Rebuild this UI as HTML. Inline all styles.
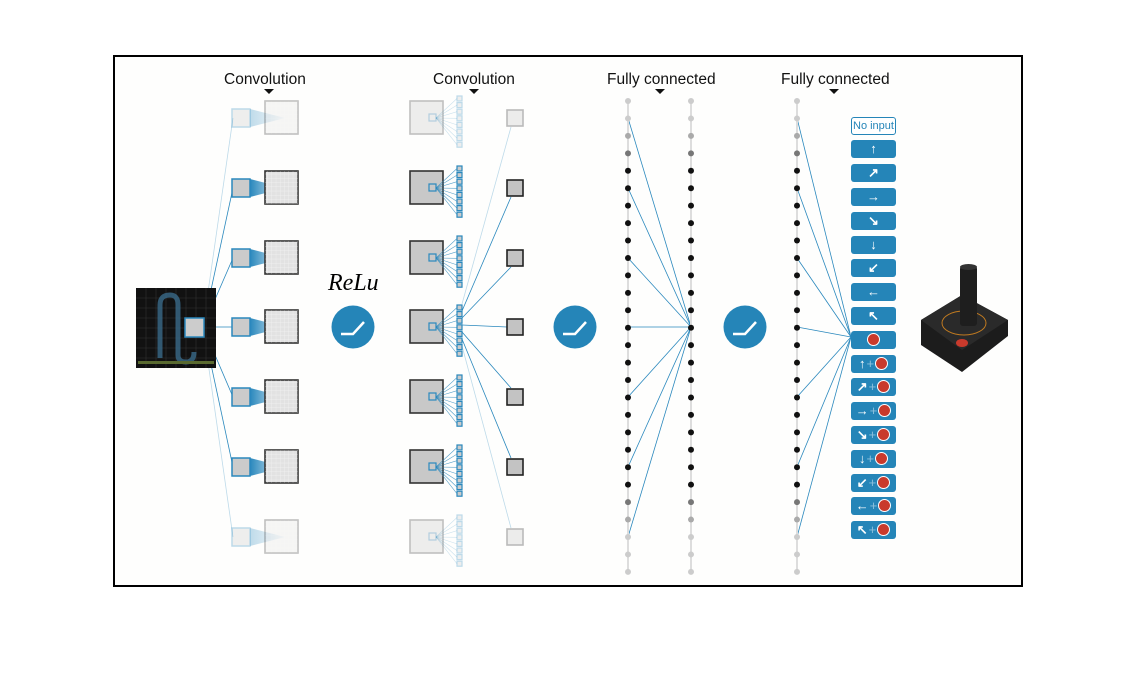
<!DOCTYPE html>
<html><head><meta charset="utf-8"><style>
body{margin:0;background:#fff;width:1132px;height:675px;overflow:hidden;position:relative;font-family:"Liberation Sans",sans-serif}
#frame{position:absolute;left:113px;top:55px;width:906px;height:528px;border:2px solid #000;background:#fefefd}
.lbl{position:absolute;font-size:15.5px;color:#111;top:71px}
.tri{position:absolute;top:89px;width:0;height:0;border-left:5px solid transparent;border-right:5px solid transparent;border-top:5px solid #111}
.btn{position:absolute;left:851px;width:45px;height:18px;background:#2585b8;border-radius:3px;color:#fff;font-size:13px;line-height:18px;text-align:center;font-weight:bold}
.btn .p{color:#8cc0dd;font-weight:normal;margin:0 1px}
.btn .r{display:inline-block;width:11px;height:11px;border-radius:50%;background:#c93a2c;border:1px solid #fff;vertical-align:-2px}
svg{position:absolute;left:0;top:0}
</style></head><body>
<div id="frame"></div>
<svg id="s" width="1132" height="675"></svg>
<div class="lbl" style="left:224px">Convolution</div>
<div class="lbl" style="left:433px">Convolution</div>
<div class="lbl" style="left:607px">Fully connected</div>
<div class="lbl" style="left:781px">Fully connected</div>
<div class="tri" style="left:264px"></div>
<div class="tri" style="left:469px"></div>
<div class="tri" style="left:655px"></div>
<div class="tri" style="left:829px"></div>
<div class="btn" style="top:117px;background:#fff;border:1px solid #2585b8;color:#2585b8;font-weight:normal;font-size:11px;width:43px;height:16px;line-height:16px">No input</div>
<div class="btn" style="top:140px">↑</div>
<div class="btn" style="top:164px">↗</div>
<div class="btn" style="top:188px">→</div>
<div class="btn" style="top:212px">↘</div>
<div class="btn" style="top:236px">↓</div>
<div class="btn" style="top:259px">↙</div>
<div class="btn" style="top:283px">←</div>
<div class="btn" style="top:307px">↖</div>
<div class="btn" style="top:331px"><span class="r"></span></div>
<div class="btn" style="top:355px">↑<span class="p">+</span><span class="r"></span></div>
<div class="btn" style="top:378px">↗<span class="p">+</span><span class="r"></span></div>
<div class="btn" style="top:402px">→<span class="p">+</span><span class="r"></span></div>
<div class="btn" style="top:426px">↘<span class="p">+</span><span class="r"></span></div>
<div class="btn" style="top:450px">↓<span class="p">+</span><span class="r"></span></div>
<div class="btn" style="top:474px">↙<span class="p">+</span><span class="r"></span></div>
<div class="btn" style="top:497px">←<span class="p">+</span><span class="r"></span></div>
<div class="btn" style="top:521px">↖<span class="p">+</span><span class="r"></span></div>
<svg width="1132" height="675" style="pointer-events:none">
<text x="328" y="290" font-family="Liberation Serif,serif" font-style="italic" font-size="24" fill="#000">ReLu</text>
</svg>
<script>
const s=document.getElementById('s');let h='';
const B='#2a88bd';
h+='<defs><linearGradient id="g" x1="0" x2="1"><stop offset="0" stop-color="#2a88bd"/><stop offset="1" stop-color="#2a88bd" stop-opacity="0.1"/></linearGradient><pattern id="gr" width="4.25" height="4.25" patternUnits="userSpaceOnUse"><path d="M4.25 0V4.25H0" fill="none" stroke="#fff" stroke-width="0.6" opacity="0.6"/></pattern></defs>';
const rows=[118,188,258,327,397,467,537];
rows.forEach((y,i)=>{const f=(i==0||i==6)?0.3:1;
 h+=`<line x1="203" y1="327" x2="233" y2="${y}" stroke="${B}" stroke-width="0.8" opacity="${f}"/>`;
 h+=`<polygon points="250,${y-9} 285,${y} 250,${y+9}" fill="url(#g)" opacity="${f}"/>`;
 h+=`<rect x="232" y="${y-9}" width="18" height="18" fill="#cbcbcb" stroke="${B}" stroke-width="1.5" opacity="${f}"/>`;
 h+=`<rect x="265" y="${y-17}" width="33" height="33" fill="#e2e2e2" stroke="#333" stroke-width="1.6" opacity="${f}"/><rect x="265" y="${y-17}" width="33" height="33" fill="url(#gr)" opacity="${f}"/>`;
 h+=`<rect x="410" y="${y-17}" width="33" height="33" fill="#c8c8c8" stroke="#333" stroke-width="1.6" opacity="${f}"/>`;
 h+=`<rect x="429" y="${y-4}" width="7" height="7" fill="none" stroke="${B}" stroke-width="1.2" opacity="${f}"/>`;
 for(let k=0;k<8;k++){const yy=y-23+k*6.6+1;
  h+=`<line x1="436" y1="${y}" x2="457" y2="${yy+2.5}" stroke="${B}" stroke-width="0.6" opacity="${f*0.8}"/>`;
  h+=`<rect x="457" y="${yy}" width="5" height="5" fill="#ccc" stroke="${B}" stroke-width="1.2" opacity="${f}"/>`;}
 h+=`<line x1="462" y1="${304+i*7}" x2="${i==3?507:511}" y2="${i==3?y:(i<3?y+9:y-9)}" stroke="${B}" stroke-width="0.8" opacity="${f}"/>`;
 h+=`<rect x="507" y="${y-8}" width="16" height="16" fill="#c3c3c3" stroke="#222" stroke-width="1.6" opacity="${f}"/>`;
 h+=`<line x1="628" y1="${y}" x2="691" y2="327" stroke="${B}" stroke-width="0.8"/>`;
 h+=`<line x1="797" y1="${y}" x2="851" y2="337" stroke="${B}" stroke-width="0.8"/>`;
});
[628,691,797].forEach(x=>{h+=`<line x1="${x}" y1="101" x2="${x}" y2="572" stroke="#ddd" stroke-width="2"/>`;
 for(let r=0;r<28;r++){const y=101+r*17.44;let c='#111';if(r<2||r>24)c='#ccc';else if(r==2||r==24)c='#aaa';else if(r==3||r==23)c='#777';
 h+=`<circle cx="${x}" cy="${y}" r="3" fill="${c}"/>`;}});
h+='<rect x="136" y="288" width="80" height="80" fill="#111"/>';
for(let i=1;i<8;i++){h+=`<line x1="${136+i*10}" y1="288" x2="${136+i*10}" y2="368" stroke="#333" stroke-width="0.6"/><line x1="136" y1="${288+i*10}" x2="216" y2="${288+i*10}" stroke="#333" stroke-width="0.6"/>`;}
h+='<path d="M160 358 V305 Q160 295 170 295 Q178 295 178 305 V355 Q178 362 186 362 Q194 362 194 352" fill="none" stroke="#3a6a8a" stroke-width="5" opacity="0.8"/>';
h+='<rect x="138" y="361" width="76" height="3" fill="#5a6a30"/>';
h+=`<rect x="185" y="318" width="19" height="19" fill="#ccc" stroke="${B}" stroke-width="1.5"/>`;
[353,575,745].forEach(x=>{h+=`<circle cx="${x}" cy="327" r="21.5" fill="#2585b8"/><polyline points="${x-12},334 ${x},334 ${x+11},322" fill="none" stroke="#fff" stroke-width="2.5"/>`;});
h+='<polygon points="921,320 962,295 1008,320 1008,336 962,372 921,345" fill="#1c1c1c"/>';
h+='<polygon points="921,320 962,295 1008,320 962,350" fill="#2a2a2a"/>';
h+='<ellipse cx="964" cy="323" rx="22" ry="12" fill="none" stroke="#c07a20" stroke-width="1"/>';
h+='<rect x="960" y="266" width="17" height="60" rx="3" fill="#1e1e1e"/><ellipse cx="968.5" cy="267" rx="8.5" ry="3" fill="#333"/>';
h+='<ellipse cx="962" cy="343" rx="6" ry="4" fill="#c93a2c"/>';
s.innerHTML=h;
</script>
</body></html>
